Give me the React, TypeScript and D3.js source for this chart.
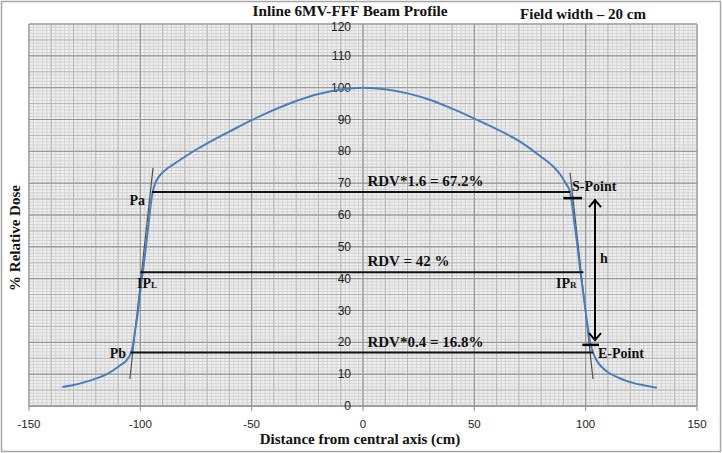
import React from 'react';
import * as d3 from 'd3';

// profile
const profileX = [-135, -130, -125, -120, -115, -112, -109, -106, -104.5, -103.5, -102.5, -101, -99.5, -98, -96.5, -95, -94, -93, -91.5, -89, -85, -80, -75, -70, -60, -50, -40, -30, -20, -10, 0, 10, 20, 30, 40, 50, 60, 70, 80, 85, 88.5, 91, 93, 94.5, 96, 97.5, 99, 100.5, 102, 103.5, 105, 107, 110, 115, 120, 126, 132];
const profileY = [6.0, 6.6, 7.5, 8.6, 10.0, 11.3, 12.8, 14.5, 16.2, 18.5, 23, 30, 39, 47, 56, 65, 68.5, 70.5, 72.2, 74, 76, 78.3, 80.5, 82.5, 86.2, 89.8, 93, 95.8, 98, 99.4, 100, 99.5, 98.2, 96.2, 93.4, 90.3, 87, 83.3, 78.3, 75.5, 72.8, 70, 67.2, 60, 52, 43, 35, 27, 20, 16.5, 14.2, 12.4, 10.6, 8.8, 7.5, 6.5, 5.7];

const xTicks = [-150, -100, -50, 0, 50, 100, 150];
const yTicks = [0, 10, 20, 30, 40, 50, 60, 70, 80, 90, 100, 110, 120];

// reference levels: value, left x, right x, label
const levelValues = [67.2, 42, 16.8];
const levelLeft = [-94.8, -100, -104.5];
const levelRight = [93, 99, 103.3];
const levelLabels = ['RDV*1.6 = 67.2%', 'RDV = 42 %', 'RDV*0.4 = 16.8%'];

// tangent lines through the penumbra
const tangentLeft = [[-94.3, 74.8], [-104.7, 8.5]];
const tangentRight = [[93, 73.3], [103.3, 8.5]];

const W = 722, H = 453;
const x = d3.scaleLinear().domain([-150, 150]).range([29, 697]);
const y = d3.scaleLinear().domain([0, 120]).range([406, 24]);

const serif = '"Liberation Serif", "Times New Roman", serif';
const sans = '"Liberation Sans", Arial, sans-serif';

export default function App() {
  const line = d3.line<number>().x((d, i) => x(profileX[i])).y((d) => y(d)).curve(d3.curveMonotoneX);

  const minorX = d3.range(-150, 150.1, 2);
  const minorY = d3.range(0, 120.1, 1);
  const midX = d3.range(-150, 150.1, 10);
  const midY = d3.range(0, 120.1, 5);

  const arrowX = x(104.2);
  const arrowTop = y(65);
  const arrowBot = y(20.4);

  return (
    <svg width={W} height={H} style={{ position: 'absolute', left: 0, top: 0, background: '#fff' }}>
      <rect x={1.5} y={1.5} width={W - 3} height={H - 3} fill="#fff" stroke="#a6a6a6" strokeWidth={1.5} />

      {/* graph paper */}
      <rect x={x(-150)} y={y(120)} width={x(150) - x(-150)} height={y(0) - y(120)} fill="#efefef" />
      <g stroke="#d3d3d3" strokeWidth={1}>
        {minorX.map((v) => <line key={'mx' + v} x1={x(v)} x2={x(v)} y1={y(0)} y2={y(120)} />)}
        {minorY.map((v) => <line key={'my' + v} x1={x(-150)} x2={x(150)} y1={y(v)} y2={y(v)} />)}
      </g>
      <g stroke="#b8b8b8" strokeWidth={1}>
        {midX.map((v) => <line key={'dx' + v} x1={x(v)} x2={x(v)} y1={y(0)} y2={y(120)} />)}
        {midY.map((v) => <line key={'dy' + v} x1={x(-150)} x2={x(150)} y1={y(v)} y2={y(v)} />)}
      </g>
      <g stroke="#939393" strokeWidth={1}>
        {xTicks.map((v) => <line key={'Mx' + v} x1={x(v)} x2={x(v)} y1={y(0)} y2={y(120)} />)}
        {yTicks.map((v) => <line key={'My' + v} x1={x(-150)} x2={x(150)} y1={y(v)} y2={y(v)} />)}
      </g>

      {/* x axis */}
      <line x1={x(-150)} x2={x(150)} y1={y(0)} y2={y(0)} stroke="#8e8e8e" />
      {xTicks.map((v) => (
        <g key={'xt' + v}>
          <line x1={x(v)} x2={x(v)} y1={y(0)} y2={y(0) + 5} stroke="#8e8e8e" />
          <text x={x(v)} y={y(0) + 22} textAnchor="middle" fontFamily={sans} fontSize={11.5} fill="#222">{v}</text>
        </g>
      ))}
      {/* y axis labels, left of centre axis */}
      {yTicks.map((v) => (
        <text key={'yt' + v} x={x(0) - 12} y={y(v) + (v === 120 ? 7 : 4)} textAnchor="end" fontFamily={sans} fontSize={12} fill="#222">{v}</text>
      ))}

      {/* tangents */}
      <g stroke="#505050" strokeWidth={1.2}>
        <line x1={x(tangentLeft[0][0])} y1={y(tangentLeft[0][1])} x2={x(tangentLeft[1][0])} y2={y(tangentLeft[1][1])} />
        <line x1={x(tangentRight[0][0])} y1={y(tangentRight[0][1])} x2={x(tangentRight[1][0])} y2={y(tangentRight[1][1])} />
      </g>

      {/* profile */}
      <path d={line(profileY) || ''} fill="none" stroke="#4a7ebb" strokeWidth={2} />

      {/* reference levels */}
      {levelValues.map((v, i) => (
        <g key={'lv' + i}>
          <line x1={x(levelLeft[i])} x2={x(levelRight[i])} y1={y(v)} y2={y(v)} stroke="#111" strokeWidth={2} />
          <text x={x(2)} y={y(v) - 6} fontFamily={serif} fontWeight="bold" fontSize={15} fill="#111">{levelLabels[i]}</text>
        </g>
      ))}

      {/* S / E point markers */}
      <line x1={x(90)} x2={x(98.4)} y1={y(65.3)} y2={y(65.3)} stroke="#000" strokeWidth={2.5} />
      <line x1={x(98.5)} x2={x(106)} y1={y(19.2)} y2={y(19.2)} stroke="#000" strokeWidth={2.5} />

      {/* h arrow */}
      <g stroke="#000" strokeWidth={2} fill="none">
        <line x1={arrowX} x2={arrowX} y1={arrowTop} y2={arrowBot} />
        <polyline points={`${arrowX - 6},${arrowTop + 8} ${arrowX},${arrowTop + 1} ${arrowX + 6},${arrowTop + 8}`} />
        <polyline points={`${arrowX - 6},${arrowBot - 8} ${arrowX},${arrowBot - 1} ${arrowX + 6},${arrowBot - 8}`} />
      </g>

      {/* annotations */}
      <g fontFamily={serif} fontWeight="bold" fontSize={14} fill="#111">
        <text x={145} y={205} textAnchor="end">Pa</text>
        <text x={126} y={358} textAnchor="end">Pb</text>
        <text x={137} y={288}>IP<tspan fontSize={9}>L</tspan></text>
        <text x={556} y={288}>IP<tspan fontSize={9}>R</tspan></text>
        <text x={572} y={191}>S-Point</text>
        <text x={598} y={358}>E-Point</text>
        <text x={600} y={263}>h</text>
      </g>

      {/* titles */}
      <text x={350} y={16} textAnchor="middle" fontFamily={serif} fontWeight="bold" fontSize={15} textLength={195} lengthAdjust="spacingAndGlyphs" fill="#111">Inline 6MV-FFF Beam Profile</text>
      <text x={583} y={19} textAnchor="middle" fontFamily={serif} fontWeight="bold" fontSize={15} fill="#111">Field width – 20 cm</text>
      <text x={360} y={444} textAnchor="middle" fontFamily={serif} fontWeight="bold" fontSize={15} fill="#111">Distance from central axis (cm)</text>
      <text transform={`translate(20,238) rotate(-90)`} textAnchor="middle" fontFamily={serif} fontWeight="bold" fontSize={15} fill="#111">% Relative Dose</text>
    </svg>
  );
}
